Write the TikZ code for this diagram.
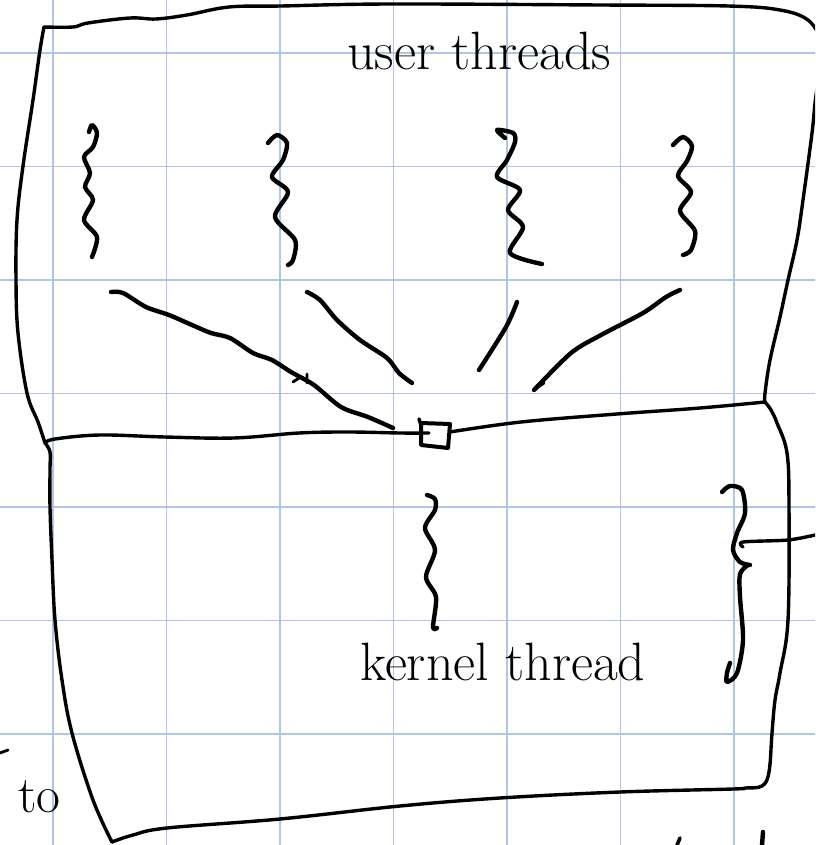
\documentclass[tikz,border=0pt]{standalone}
\definecolor{gridblue}{RGB}{178,198,226}
\begin{document}
\begin{tikzpicture}[x=1pt,y=-1pt,line cap=round,line join=round,
  ink/.style={line width=3.4pt,black},
  wave/.style={line width=4.4pt,black},
  gridline/.style={draw=gridblue,line width=1.2pt},
  label/.style={font=\fontsize{54}{62}\selectfont,inner sep=0pt,anchor=base west}]
\useasboundingbox (0,0) rectangle (815,845);
\clip (0,0) rectangle (815,845);
\fill[white] (0,0) rectangle (815,845);
% grid paper
\foreach \v in {53,166.5,280,393.5,507,620.5,734}{
  \draw[gridline] (\v,0) -- (\v,845);
  \draw[gridline] (0,\v) -- (815,\v);
}
% upper box (user space)
\draw[ink] plot[smooth,tension=0.6] coordinates {(45,443) (38,422) (27,393) (18,333) (16,280) (17,220) (23,166) (33,100) (40,50) (44,27)};
\draw[ink] plot[smooth,tension=0.6] coordinates {(44,27) (73,27) (88,23) (130,18) (156,19) (187,15) (229,7) (281,6) (390,4) (600,5) (728,6) (780,10) (808,20) (822,40)};
\draw[ink] plot[smooth,tension=0.6] coordinates {(822,40) (818,80) (815,103) (812,133) (803,200) (797,240) (788,280) (780,317) (770,360) (765,393) (765,402)};
% dividing line
\draw[ink] plot[smooth,tension=0.6] coordinates {(45,443) (55,439) (100,435) (165,437) (234,438) (299,433) (349,432) (400,433) (429,433)};
\draw[ink] plot[smooth,tension=0.6] coordinates {(450,432) (521,422) (617,414) (700,408) (765,402)};
% little box on the dividing line
\draw[line width=4pt] (421,423) -- (421,445) -- (448,448) -- (450,424) -- cycle;
\draw[line width=3.6pt] (419,419) -- (421,425);
% lower box (kernel space)
\draw[ink] plot[smooth,tension=0.6] coordinates {(45,443) (50,452) (50,470) (50,507) (52,560) (55,620) (62,680) (72,733) (93,800) (112,842)};
\draw[ink] plot[smooth,tension=0.6] coordinates {(765,402) (771,410) (777,423) (787,453) (789,507) (788,620) (780,673) (775,700) (772,733) (769,772) (762,786) (745,788) (733,789) (620,792) (500,798) (400,806) (280,819) (167,828) (133,835) (112,842)};
% user threads
\draw[wave] plot[smooth] coordinates {(89,132) (92,125) (97,133) (93,147) (84,157) (90,173) (85,187) (93,200) (84,220) (97,237) (92,257)};
\draw[wave] plot[smooth] coordinates {(268,143) (277,135) (287,143) (283,160) (272,177) (288,192) (275,217) (295,240) (293,260) (288,265)};
\draw[wave] plot[smooth] coordinates {(505,138) (497,130) (513,133) (515,142) (507,160) (497,177) (520,190) (508,210) (523,227) (510,253) (542,264)};
\draw[wave] plot[smooth] coordinates {(673,145) (683,137) (692,146) (687,161) (678,176) (691,192) (680,211) (695,231) (691,250) (683,255)};
% many-to-one connectors
\draw[wave] plot[smooth] coordinates {(111,292) (123,293) (146,307) (169,315) (192,325) (211,333) (230,338) (253,353) (272,360) (291,372) (314,385) (341,407) (368,417) (393,428)};
\draw[line width=2.8pt] (307,374) -- (307,383) (293,382) -- (299,378);
\draw[wave] plot[smooth] coordinates {(307,292) (320,300) (337,320) (360,340) (387,358) (399,373) (412,383)};
\draw[wave] plot[smooth] coordinates {(517,302) (506,327) (479,370)};
\draw[wave] plot[smooth] coordinates {(680,290) (666,297) (643,313) (601,335) (571,353) (534,390)};
\draw[line width=2.8pt] (534,390) -- (544,383);
% kernel thread
\draw[wave] plot[smooth] coordinates {(427,495) (435,499) (435,510) (425,528) (435,550) (426,577) (436,597) (433,627) (437,628)};
% brace
\draw[wave] plot[smooth] coordinates {(722,492) (730,486) (742,490) (745,513) (737,533) (733,550) (740,562) (750,565)};
\draw[wave] plot[smooth] coordinates {(748,565) (740,574) (740,597) (743,640) (737,673) (727,682) (727,673) (730,663)};
\draw[ink] plot[smooth] coordinates {(743,547) (743,542) (788,540) (815,535)};
% stray marks
\draw[line width=2.8pt] (0,753) -- (8,750);
\draw[line width=3.6pt] (677,845) -- (680,838);
\draw[line width=4.4pt] (763,832) -- (762,845);
% labels
\node[label] (ut) at (347,70) {user threads};
\node[label] (kt) at (360,680) {kernel thread};
\node[label,font=\fontsize{52}{58}\selectfont] (to) at (18,812) {to};
\end{tikzpicture}
\end{document}
